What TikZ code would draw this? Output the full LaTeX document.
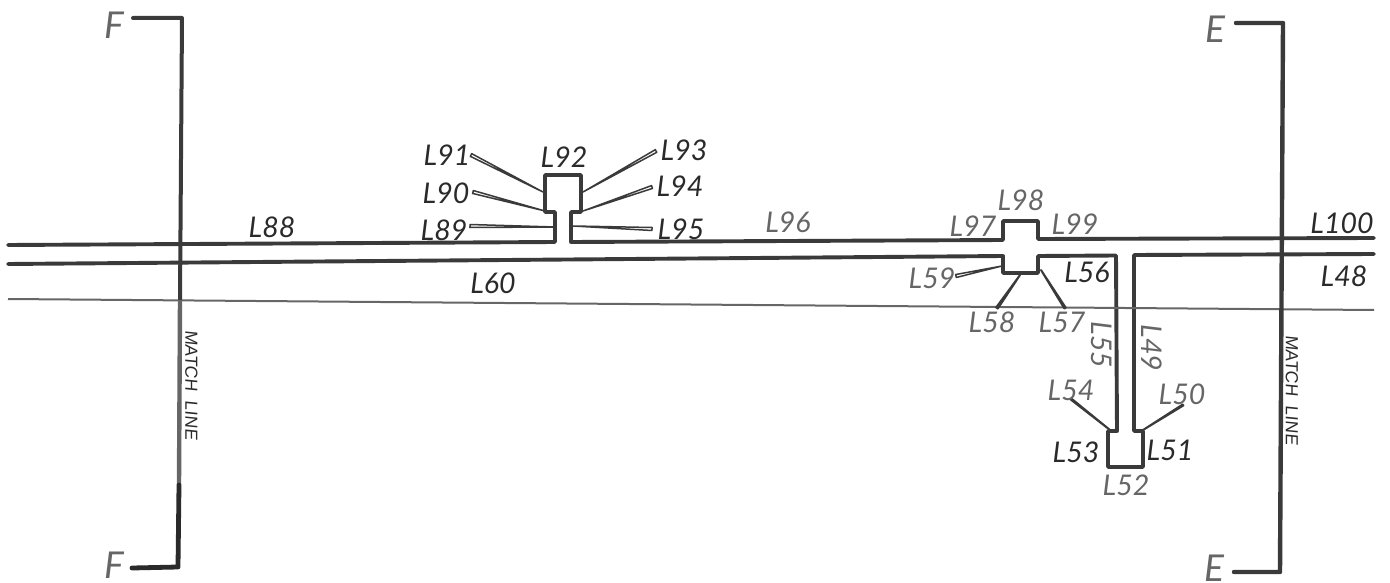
\documentclass[tikz,border=0pt]{standalone}
\usepackage{fontspec}
\setmainfont{Liberation Sans}
\newfontfamily\labfont{Lato}
\usetikzlibrary{calc}
\definecolor{ink}{HTML}{3A3A3A}
\definecolor{dk}{HTML}{2A2A2A}
\definecolor{gr}{HTML}{666666}
\tikzset{
  x=1pt,y=-1pt,
  pipe/.style={draw=ink,line width=3.9pt,line join=round,line cap=round},
  thinline/.style={draw=gr,line width=2pt},
  lab/.style={font=\labfont\fontsize{28.5}{29}\selectfont\itshape,text=dk,inner sep=0pt},
  labg/.style={lab,text=gr},
  mlab/.style={font=\fontsize{17.5}{17.5}\selectfont\addfontfeature{FakeSlant=0.1},text=dk,inner sep=0pt,rotate=-90},
  bigl/.style={font=\labfont\fontsize{37}{37}\selectfont\itshape,text=gr,inner sep=0pt},
  hollow/.style={draw=ink,line width=1.5pt,fill=white,line join=round},
  solidl/.style={draw=ink,line width=2pt,fill=ink,line join=round},
}
% wedge leader: wide at the label end, pointed at the drawing end
\newcommand{\leaderw}[5]{%
  \coordinate (#1a) at (#3);\coordinate (#1b) at (#4);
  \draw[#2] ($(#1a)!#5!90:(#1b)$) -- ($(#1a)!#5!-90:(#1b)$) -- (#1b) -- cycle;}
\begin{document}
\begin{tikzpicture}
\useasboundingbox (0,0) rectangle (1390,583);
% main lines
\draw[pipe] (8,245) -- (555,242) -- (555,212) -- (545,212) -- (545,175) -- (581,175) -- (581,212) -- (571,212) -- (571,242) -- (1003,240) -- (1003,221) -- (1038,221) -- (1038,239) -- (1374,238);
\draw[pipe] (8,264) -- (1003,256) -- (1003,273) -- (1038,273) -- (1038,256) -- (1116,255.5) -- (1117,431) -- (1108,431) -- (1108,467) -- (1143,467) -- (1143,431) -- (1134,431) -- (1134,255) -- (1374,254);
\draw[thinline] (8,299) -- (1374,310);
% match line brackets
\draw[draw=ink,line width=4pt,line join=round,line cap=round] (133,18) -- (182,18) -- (180,300);
\draw[draw=gr,line width=4.4pt] (180,300) -- (179,485);
\draw[draw=dk,line width=4.8pt,line join=round,line cap=round] (179,485) -- (178,567) -- (132,568);
\draw[draw=ink,line width=4.4pt,line join=round,line cap=round] (1236,23) -- (1283,23) -- (1280,572) -- (1234,572);
% leaders
\leaderw{a}{hollow}{471,155}{543,192}{1.5pt}
\leaderw{b}{hollow}{473,192}{545,211}{1.5pt}
\leaderw{c}{hollow}{470,226}{555,227}{1.5pt}
\leaderw{d}{hollow}{656,151}{583,192}{1.5pt}
\leaderw{e}{hollow}{652,187}{583,211}{1.5pt}
\leaderw{f}{hollow}{652,229}{573,226}{1.5pt}
\leaderw{g}{hollow}{956,276}{1002,266}{1.5pt}
\leaderw{h}{solidl}{997,308}{1020,275}{1pt}
\leaderw{i}{solidl}{1065,308}{1041,270}{0.8pt}
\leaderw{j}{solidl}{1071,399}{1110,430}{0.6pt}
\leaderw{k}{solidl}{1183,405}{1143,430}{0.6pt}
% labels
\node[bigl] (f1) at (114,25) {F};
\node[bigl] (f2) at (114,565) {F};
\node[bigl] (e1) at (1215,29) {E};
\node[bigl] (e2) at (1214,568) {E};
\node[lab] (l88) at (272,227) {L88};
\node[lab] (l60) at (493,283) {L60};
\node[labg] (l96) at (788,222) {L96};
\node[lab] (l89) at (444,230) {L89};
\node[lab] (l90) at (446,193) {L90};
\node[lab] (l91) at (447,155) {L91};
\node[lab] (l92) at (564,157) {L92};
\node[lab] (l93) at (684,150) {L93};
\node[lab] (l94) at (680,186) {L94};
\node[lab] (l95) at (681,229) {L95};
\node[labg] (l97) at (973,226) {L97};
\node[labg] (l98) at (1021,200) {L98};
\node[labg] (l99) at (1075,224) {L99};
\node[lab] (l100) at (1342,223) {L100};
\node[lab] (l48) at (1344,276) {L48};
\node[lab] (l56) at (1087,272) {L56};
\node[labg] (l59) at (932,278) {L59};
\node[labg] (l58) at (992,322) {L58};
\node[labg] (l57) at (1062,322) {L57};
\node[labg,rotate=-90] (l55) at (1102,345) {L55};
\node[labg,rotate=-90] (l49) at (1152,348) {L49};
\node[labg] (l54) at (1071,390) {L54};
\node[labg] (l50) at (1182,394) {L50};
\node[lab] (l53) at (1076,452) {L53};
\node[lab] (l51) at (1170,450) {L51};
\node[labg] (l52) at (1126,485) {L52};
\node[mlab] (m1) at (191.5,385) {MATCH\ \ LINE};
\node[mlab] (m2) at (1292,390) {MATCH\ \ LINE};
\end{tikzpicture}
\end{document}
